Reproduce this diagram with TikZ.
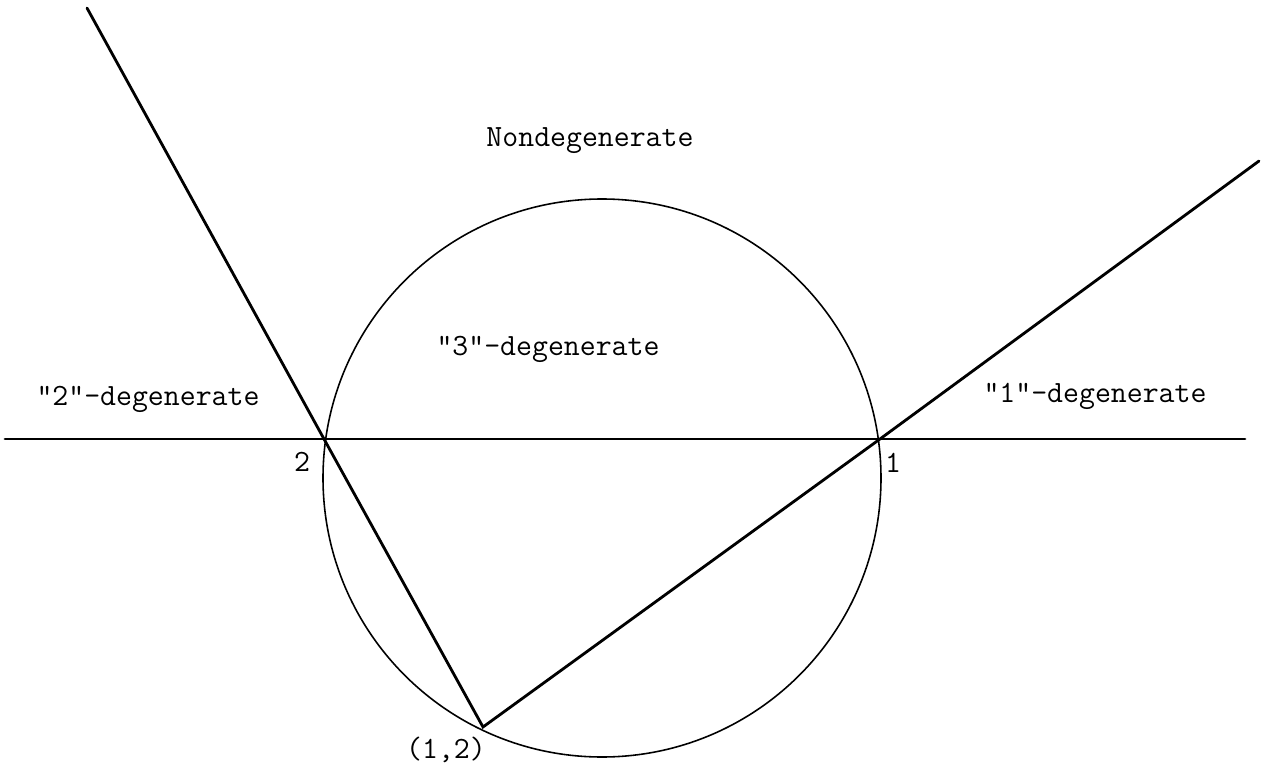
\documentclass[tikz,border=0pt]{standalone}
\usepackage{tikz}
\usetikzlibrary{calc}

\begin{document}
\begin{tikzpicture}[
  x=0.02cm, y=-0.02cm,
  every node/.style={font=\ttfamily\fontsize{17.6}{20}\selectfont},
  region/.style={anchor=base},
  bound/.style={line width=1.6pt,line cap=round},
  orbit/.style={line width=0.9pt}
]
\useasboundingbox (0,0) rectangle (1265,767);
\coordinate (P2) at (324,439);
\coordinate (P1) at (880,439);
\coordinate (P12) at (483,727);
\coordinate (L) at (5,439);
\coordinate (R) at (1245,439);
\coordinate (UL) at (87,8);
\coordinate (UR) at (1259,161);
\coordinate (M) at (602,478);
% circle and boundary lines
\draw[orbit] (M) circle[radius=279];
\draw[bound] (L) -- (R);
\draw[bound] (UL) -- (P2) -- (P12) -- (P1) -- (UR);
% point labels
\node (n2) at (302,462) {2};
\node (n1) at (893,463) {1};
\node (n12) at (446,750) {(1,2)};
% regions
\node[region] (non) at (590,147) {Nondegenerate};
\node[region] (deg3) at (548,355) {"3"-degenerate};
\node[region] (deg2) at (148,405) {"2"-degenerate};
\node[region] (deg1) at (1095,402) {"1"-degenerate};
\end{tikzpicture}
\end{document}
